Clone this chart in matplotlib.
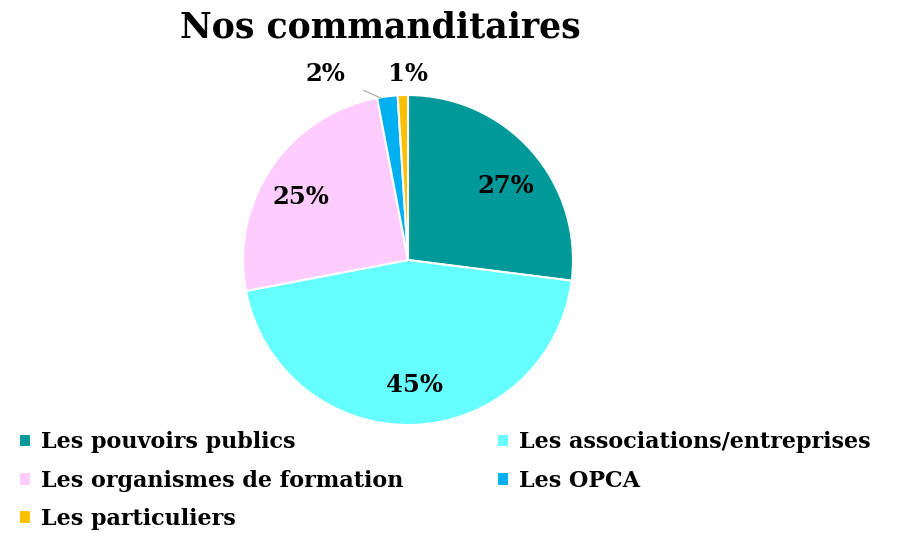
import matplotlib.pyplot as plt

labels = [
    "Les pouvoirs publics",
    "Les associations/entreprises",
    "Les organismes de formation",
    "Les OPCA",
    "Les particuliers",
]
shares = [27, 45, 25, 2, 1]
colors = ["#009999", "#66FFFF", "#FFCCFF", "#00B0F0", "#FFC000"]

plt.rcParams["font.family"] = ["DejaVu Serif"]

fig = plt.figure(figsize=(8.99, 5.33), dpi=100)
ax = fig.add_axes([0.2703, 0.2026, 0.3671, 0.6191])

wedges, _ = ax.pie(
    shares,
    colors=colors,
    startangle=90,
    counterclock=False,
    radius=1,
    wedgeprops=dict(edgecolor="white", linewidth=1.5),
)
ax.set_xlim(-1, 1)
ax.set_ylim(-1, 1)
ax.set_aspect("equal")

# percentage labels
lab = dict(ha="center", va="center", fontsize=17.5, fontweight="bold")
ax.text(0.59, 0.45, "27%", **lab)
ax.text(0.04, -0.76, "45%", **lab)
ax.text(-0.65, 0.38, "25%", **lab)
ax.annotate(
    "2%", xy=(-0.16, 0.98), xytext=(-0.50, 1.13),
    arrowprops=dict(arrowstyle="-", color="#A6A6A6", lw=0.8,
                    shrinkA=12, shrinkB=0),
    **lab,
)
ax.text(0.0, 1.13, "1%", **lab)

fig.text(0.423, 0.948, "Nos commanditaires", ha="center", va="center",
         fontsize=25, fontweight="bold")

# row-major legend order: fill columns so rows read left to right
order = [0, 2, 4, 1, 3]
fig.legend(
    [wedges[i] for i in order], [labels[i] for i in order],
    ncol=2, loc="upper left",
    bbox_to_anchor=(-0.001, 0.228), frameon=False,
    prop=dict(size=16, weight="bold"),
    handlelength=0.55, handleheight=0.55, handletextpad=0.45,
    columnspacing=4.2, labelspacing=0.73,
)

fig.savefig("out.png", dpi=100)
